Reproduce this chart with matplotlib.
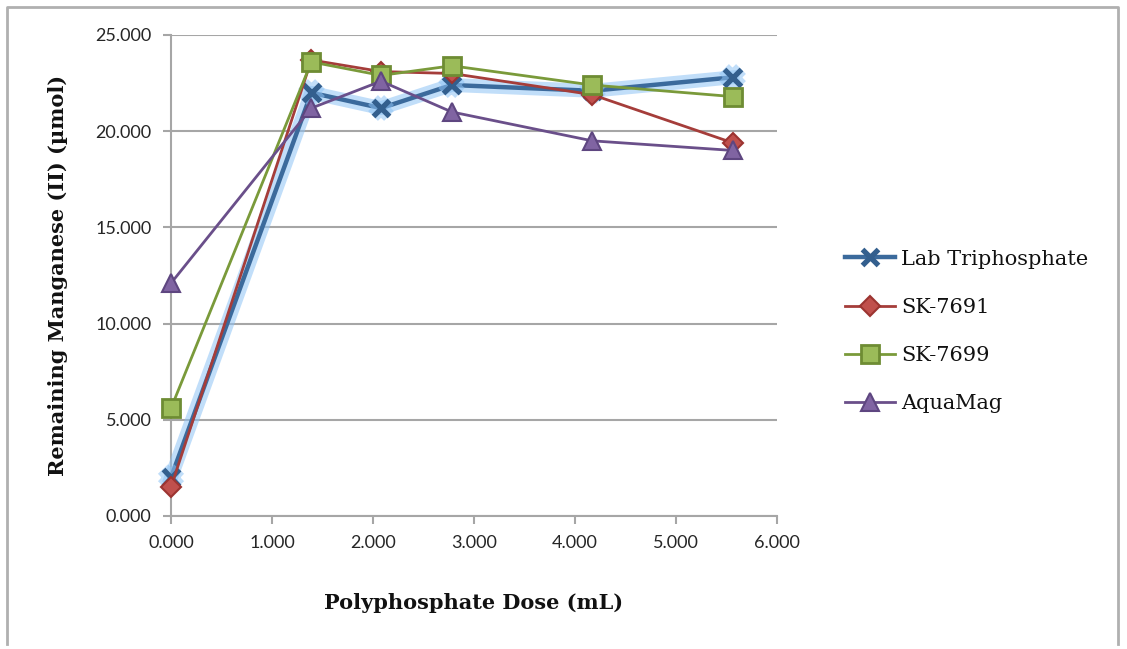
import matplotlib.pyplot as plt
import matplotlib.patheffects as pe
from matplotlib.lines import Line2D
from matplotlib.ticker import FormatStrFormatter

# --- Data -------------------------------------------------------------
dose = [0.0, 1.39, 2.08, 2.78, 4.17, 5.56]
lab_triphosphate = [2.0, 22.0, 21.2, 22.4, 22.1, 22.8]
sk_7691 = [1.5, 23.7, 23.1, 23.0, 21.9, 19.4]
sk_7699 = [5.6, 23.6, 22.9, 23.4, 22.4, 21.8]
aquamag = [12.1, 21.2, 22.6, 21.0, 19.5, 19.0]

series_names = ["Lab Triphosphate", "SK-7691", "SK-7699", "AquaMag"]

# --- Figure -----------------------------------------------------------
fig = plt.figure(figsize=(11.27, 6.49), dpi=100)
ax = fig.add_axes([171 / 1127, 1 - 516 / 649, (777 - 171) / 1127, (516 - 35) / 649])

glow = [pe.Stroke(linewidth=10, foreground="#8EC3F5", alpha=0.55), pe.Normal()]

styles = [
    dict(color="#3B6A9C", lw=3.2, marker="x", ms=12, mew=3.8, mec="#335F8E"),
    dict(color="#A53D3A", lw=2.0, marker="D", ms=10, mfc="#C0504D", mec="#9C3431", mew=1.5),
    dict(color="#7A9A3A", lw=2.0, marker="s", ms=13, mfc="#9BBB59", mec="#6E8C33", mew=2),
    dict(color="#6A4F8A", lw=2.0, marker="^", ms=13, mfc="#8064A2", mec="#5E4680", mew=1.5),
]
all_series = [lab_triphosphate, sk_7691, sk_7699, aquamag]

handles = []
for i, (vals, st) in enumerate(zip(all_series, styles)):
    kw = dict(st)
    if i == 0:
        kw["path_effects"] = glow
    ax.plot(dose, vals, clip_on=False, zorder=3 + i, **kw)
    handles.append(Line2D([], [], **st))

ax.set_xlim(0, 6)
ax.set_ylim(0, 25)
ax.set_xticks([0, 1, 2, 3, 4, 5, 6])
ax.set_yticks([0, 5, 10, 15, 20, 25])
ax.xaxis.set_major_formatter(FormatStrFormatter("%.3f"))
ax.yaxis.set_major_formatter(FormatStrFormatter("%.3f"))
ax.grid(axis="y", color="#A6A6A6", lw=1.5, zorder=0)
ax.set_axisbelow(True)

for s in ["top", "right"]:
    ax.spines[s].set_visible(False)
for s in ["left", "bottom"]:
    ax.spines[s].set_color("#A6A6A6")
    ax.spines[s].set_linewidth(1.5)

ax.tick_params(axis="both", colors="#A6A6A6", width=1.5, length=6,
               labelcolor="#262626", labelsize=13)
for lbl in ax.get_xticklabels() + ax.get_yticklabels():
    lbl.set_family("Lato")
ax.tick_params(axis="x", pad=8)
ax.tick_params(axis="y", pad=8)

ax.set_xlabel("Polyphosphate Dose (mL)", family="DejaVu Serif", fontweight="bold",
              fontsize=15, color="#111111", labelpad=30)
ax.set_ylabel("Remaining Manganese (II) (µmol)", family="DejaVu Serif", fontweight="bold",
              fontsize=15, color="#111111", labelpad=20)

leg = fig.legend(handles, series_names, loc="upper left",
                 bbox_to_anchor=(826 / 1127, 1 - 231 / 649),
                 frameon=False, prop={"family": "DejaVu Serif", "size": 15},
                 handlelength=2.4, labelspacing=1.4, handletextpad=0.3)
for t in leg.get_texts():
    t.set_color("#111111")

# chart border (top, left, right)
fig.add_artist(Line2D([7 / 1127, 7 / 1127, 1118 / 1127, 1118 / 1127],
                      [1 - 644 / 649, 1 - 7 / 649, 1 - 7 / 649, 1 - 644 / 649],
                      transform=fig.transFigure, color="#B0B0B0", lw=2))

fig.savefig("out.png", dpi=100)
